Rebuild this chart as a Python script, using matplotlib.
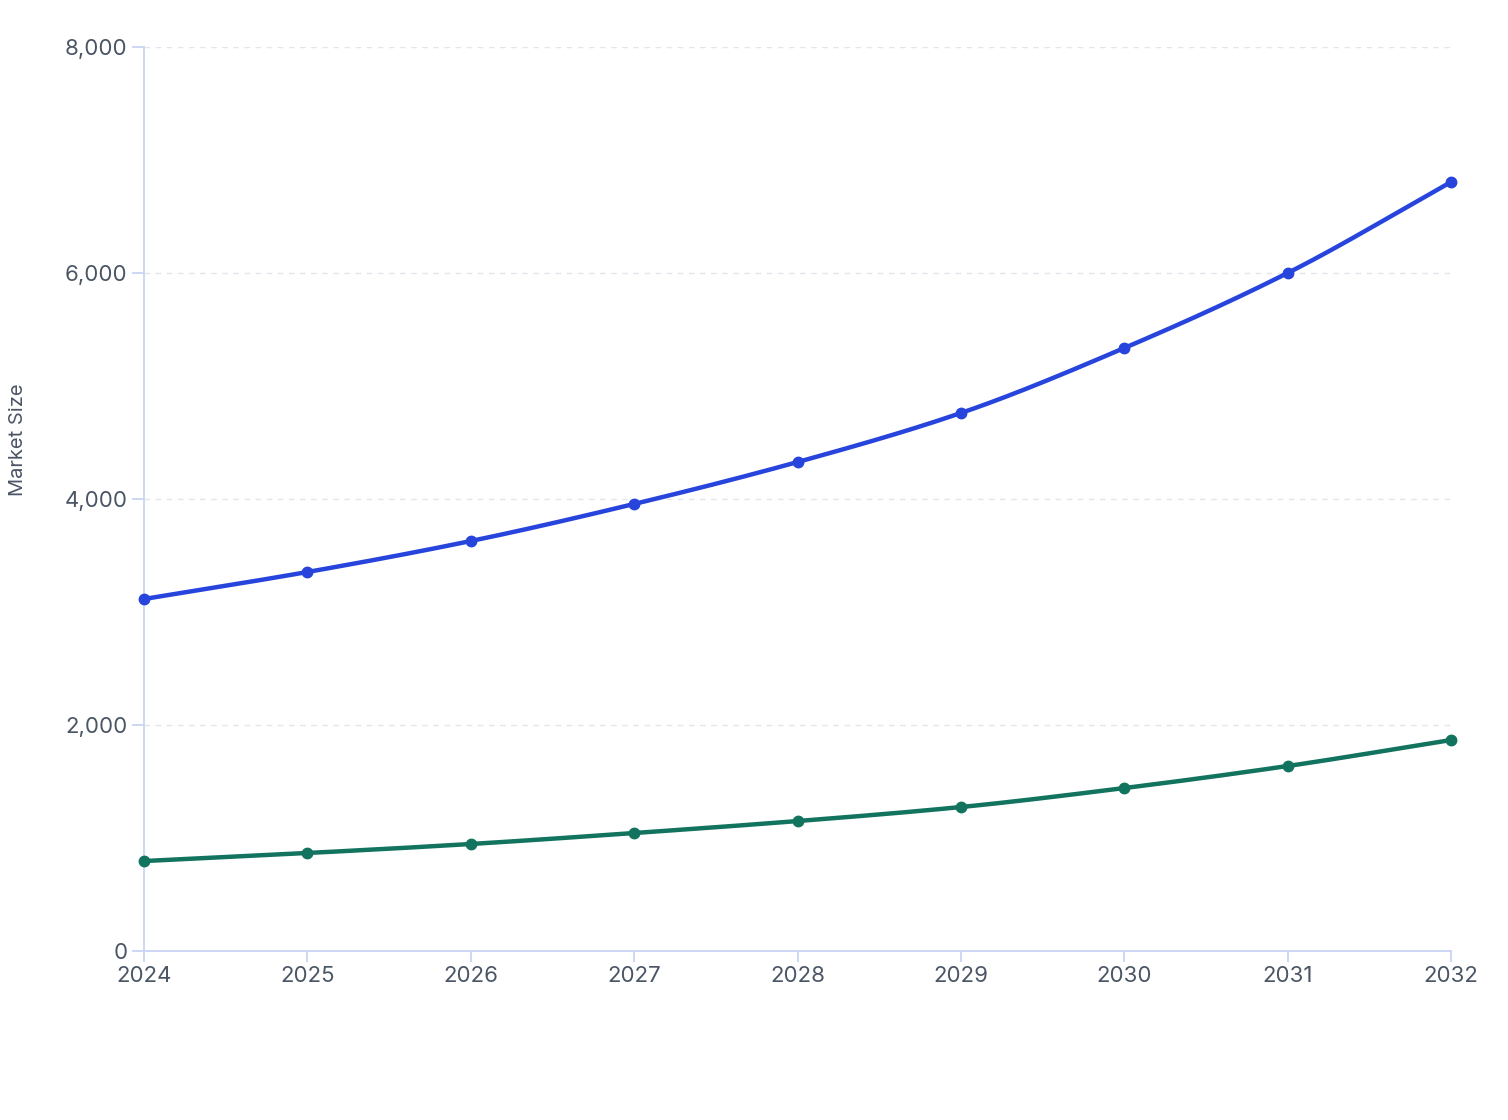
import numpy as np
import matplotlib
matplotlib.use("Agg")
import matplotlib.pyplot as plt
from matplotlib.ticker import FuncFormatter

years = [2024, 2025, 2026, 2027, 2028, 2029, 2030, 2031, 2032]
series_a = [3115, 3354, 3628, 3956, 4327, 4761, 5336, 6000, 6805]
series_b = [796, 867, 947, 1044, 1150, 1274, 1442, 1637, 1867]
y_ticks = [0, 2000, 4000, 6000, 8000]
y_label = "Market Size"

plt.rcParams['font.family'] = ['Inter', 'DejaVu Sans']


def monotone_curve(x, y, n=40):
    x = np.asarray(x, float); y = np.asarray(y, float)
    h = np.diff(x); d = np.diff(y) / h
    m = np.zeros_like(y)
    m[0] = d[0]; m[-1] = d[-1]
    for i in range(1, len(y) - 1):
        if d[i - 1] * d[i] <= 0:
            m[i] = 0
        else:
            w1 = 2 * h[i] + h[i - 1]; w2 = h[i] + 2 * h[i - 1]
            m[i] = (w1 + w2) / (w1 / d[i - 1] + w2 / d[i])
    xs, ys = [], []
    for i in range(len(x) - 1):
        t = np.linspace(0, 1, n, endpoint=(i == len(x) - 2))
        h00 = 2 * t**3 - 3 * t**2 + 1
        h10 = t**3 - 2 * t**2 + t
        h01 = -2 * t**3 + 3 * t**2
        h11 = t**3 - t**2
        xs.append(x[i] + t * h[i])
        ys.append(h00 * y[i] + h10 * h[i] * m[i] + h01 * y[i + 1] + h11 * h[i] * m[i + 1])
    return np.concatenate(xs), np.concatenate(ys)


fig = plt.figure(figsize=(15.08, 11.2), dpi=100)
ax = fig.add_axes([144 / 1508, 1 - 951 / 1120, (1451 - 144) / 1508, (951 - 47) / 1120])

for vals, col in [(series_a, '#2744dc'), (series_b, '#12735f')]:
    cx, cy = monotone_curve(years, vals)
    ax.plot(cx, cy, color=col, lw=3.2, solid_capstyle='round', zorder=3, clip_on=False)
    ax.plot(years, vals, 'o', color=col, ms=7.5, zorder=4, clip_on=False)

ax.set_xlim(years[0], years[-1])
ax.set_ylim(0, 8000)
ax.set_xticks(years)
ax.set_yticks(y_ticks)
ax.yaxis.set_major_formatter(FuncFormatter(lambda v, p: f"{int(v):,}"))

for s in ['top', 'right']:
    ax.spines[s].set_visible(False)
axis_col = '#c9d3f3'
for s in ['left', 'bottom']:
    ax.spines[s].set_color(axis_col)
    ax.spines[s].set_linewidth(1.3)
ax.tick_params(axis='both', colors=axis_col, labelcolor='#4a5565', labelsize=16,
               width=1.3)
ax.tick_params(axis='y', length=8.5, pad=3.5)
ax.tick_params(axis='x', length=8, pad=3)

ax.yaxis.grid(True, color='#e3e5ec', linestyle=(0, (4, 4)), linewidth=1.0)
ax.set_axisbelow(True)

ax.set_ylabel(y_label, fontsize=14.5, color='#4a5565')
ax.yaxis.set_label_coords((27 - 144) / 1307, (951 - 440) / 904)

fig.savefig("out.png", dpi=100, facecolor='white')
